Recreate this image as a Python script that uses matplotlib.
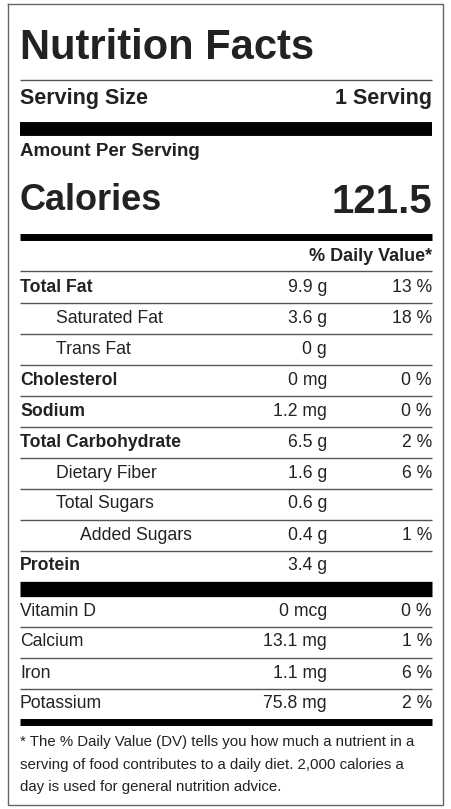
import matplotlib
matplotlib.use("Agg")
import matplotlib.pyplot as plt

plt.rcParams['font.family'] = ['Liberation Sans', 'DejaVu Sans']

nutrients = ["Total Fat", "Saturated Fat", "Trans Fat", "Cholesterol", "Sodium",
             "Total Carbohydrate", "Dietary Fiber", "Total Sugars", "Added Sugars", "Protein"]
amounts = ["9.9 g", "3.6 g", "0 g", "0 mg", "1.2 mg", "6.5 g", "1.6 g", "0.6 g", "0.4 g", "3.4 g"]
daily = ["13 %", "18 %", "", "0 %", "0 %", "2 %", "6 %", "", "1 %", ""]
indent = [0, 1, 1, 0, 0, 0, 1, 1, 2, 0]

vitamins = ["Vitamin D", "Calcium", "Iron", "Potassium"]
vit_amounts = ["0 mcg", "13.1 mg", "1.1 mg", "75.8 mg"]
vit_daily = ["0 %", "1 %", "6 %", "2 %"]

footnote = ["* The % Daily Value (DV) tells you how much a nutrient in a",
            "serving of food contributes to a daily diet. 2,000 calories a",
            "day is used for general nutrition advice."]

W, H = 452, 809
fig = plt.figure(figsize=(W / 100, H / 100), dpi=100)
ax = fig.add_axes([0, 0, 1, 1])
ax.set_xlim(0, W)
ax.set_ylim(H, 0)
ax.axis("off")

ink = "#222222"
L, R = 20, 432
AMT_X = 327
FS = 12.7

# outer border
ax.plot([8, 8, 443, 443, 8], [4, 805, 805, 4, 4], color="#666666", lw=1)

def hline(y, lw=1, color="#555555"):
    ax.plot([L, R], [y, y], color=color, lw=lw, solid_capstyle="butt")

ax.text(L, 48, "Nutrition Facts", fontsize=30, fontweight="bold", color=ink, va="center")
hline(80)
ax.text(L, 98, "Serving Size", fontsize=15.5, fontweight="bold", color=ink, va="center")
ax.text(R, 98, "1 Serving", fontsize=15.5, fontweight="bold", color=ink, va="center", ha="right")
hline(128.5, lw=10, color="black")
ax.text(L, 151, "Amount Per Serving", fontsize=13.5, fontweight="bold", color=ink, va="center")
ax.text(L, 200, "Calories", fontsize=26, fontweight="bold", color=ink, va="center")
ax.text(R, 202, "121.5", fontsize=29, fontweight="bold", color=ink, va="center", ha="right")
hline(237, lw=5, color="black")
ax.text(R, 256, "% Daily Value*", fontsize=13, fontweight="bold", color=ink, va="center", ha="right")
hline(271)

y = 287
for name, amt, dv, ind in zip(nutrients, amounts, daily, indent):
    bold = ind == 0
    ax.text(L + ind * 36 - (12 if ind == 2 else 0), y, name,
            fontsize=FS, fontweight="bold" if bold else "normal", color=ink, va="center")
    ax.text(AMT_X, y, amt, fontsize=FS, color=ink, va="center", ha="right")
    if dv:
        ax.text(R, y, dv, fontsize=FS, color=ink, va="center", ha="right")
    if name != nutrients[-1]:
        hline(y + 15.5)
    y += 31

hline(588.5, lw=11, color="black")
y = 611
for i, (name, amt, dv) in enumerate(zip(vitamins, vit_amounts, vit_daily)):
    ax.text(L, y, name, fontsize=FS, color=ink, va="center")
    ax.text(AMT_X, y, amt, fontsize=FS, color=ink, va="center", ha="right")
    ax.text(R, y, dv, fontsize=FS, color=ink, va="center", ha="right")
    if i < len(vitamins) - 1:
        hline(y + 15.5)
    y += 31

hline(722, lw=5, color="black")
for i, line in enumerate(footnote):
    ax.text(L, 742 + i * 22.5, line, fontsize=10.8, color=ink, va="center")

fig.savefig("out.png", dpi=100)
